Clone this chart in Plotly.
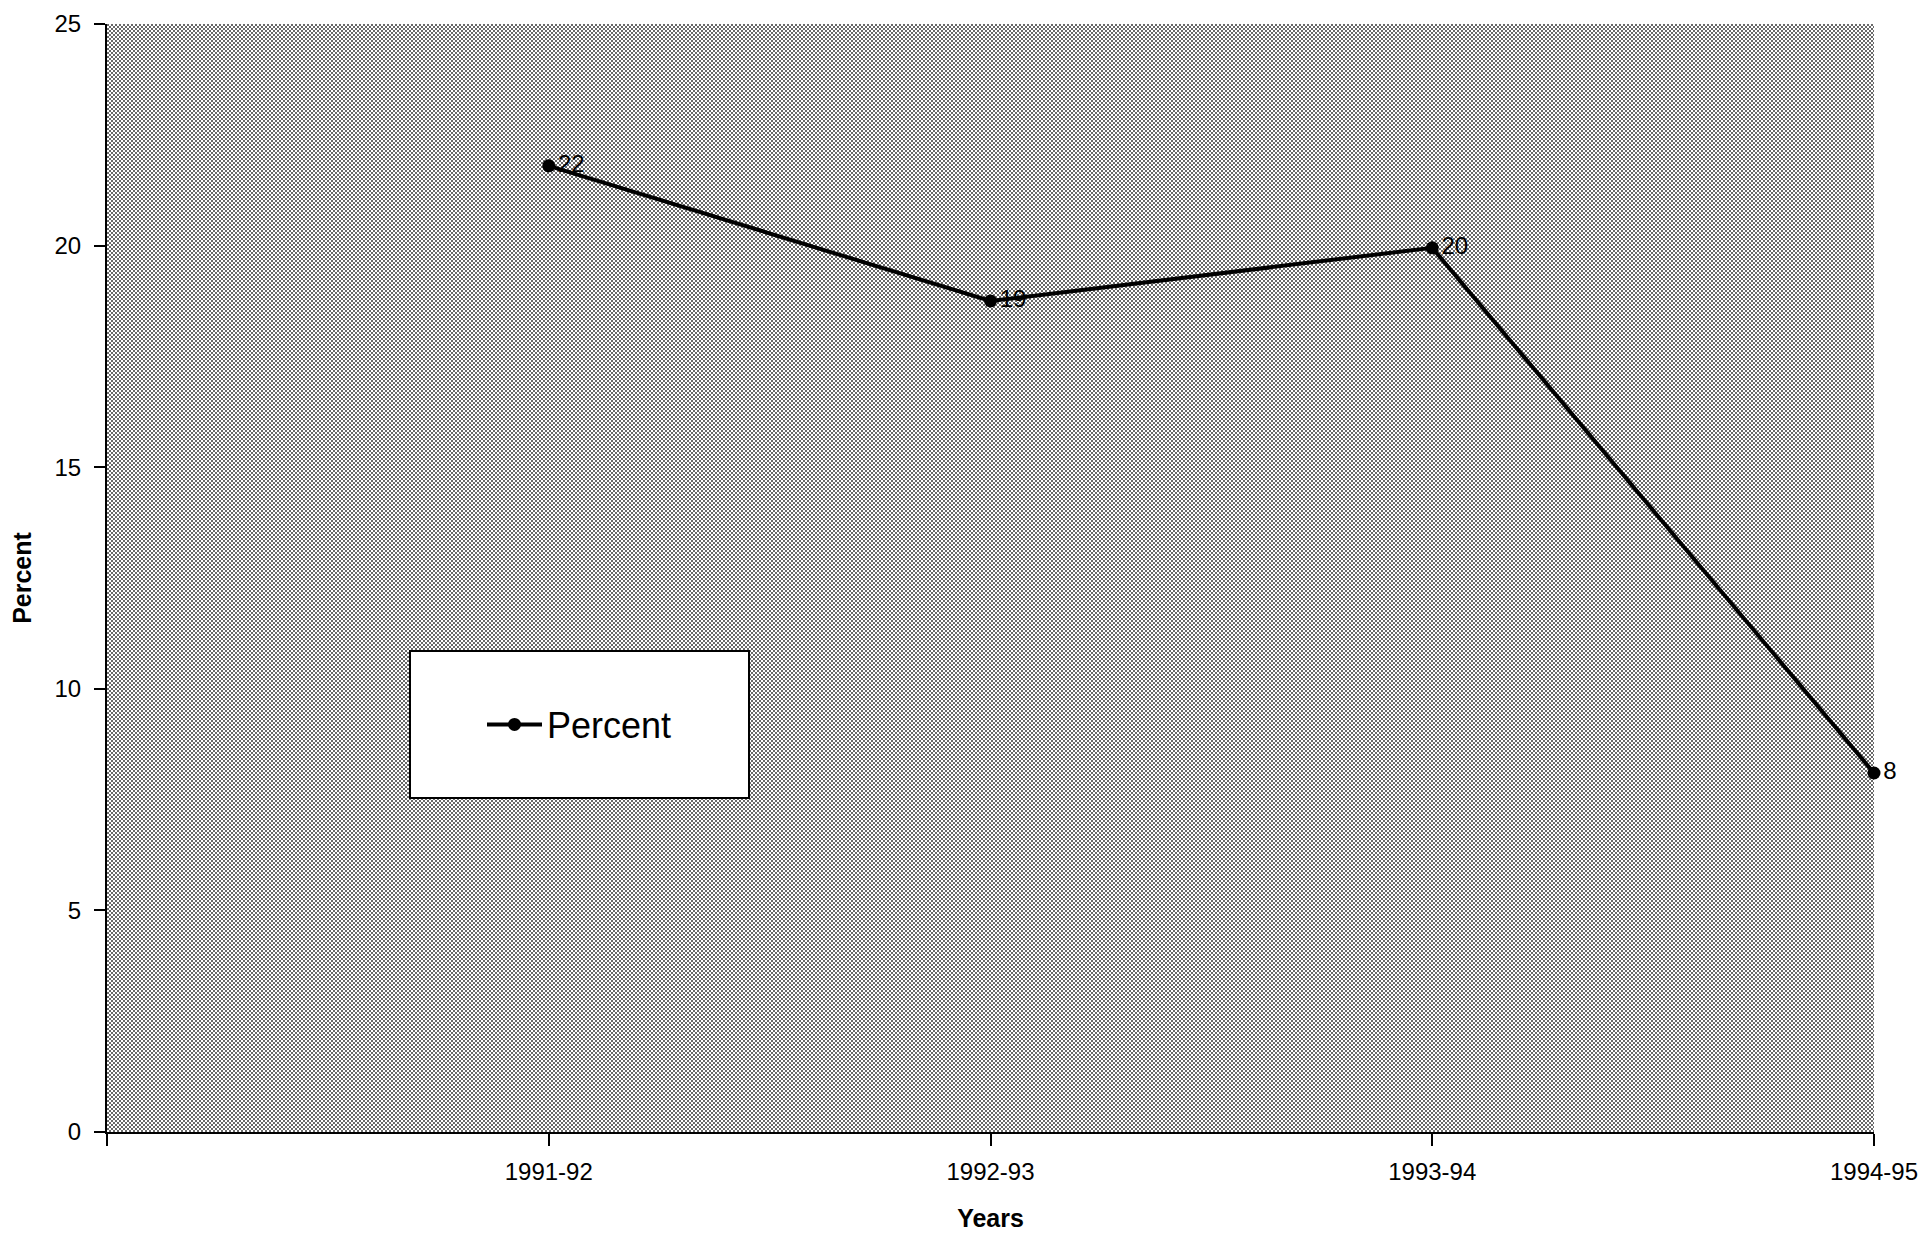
import base64
import struct
import zlib

import numpy as np
import plotly.graph_objects as go

# ---- data ----
categories = ["1991-92", "1992-93", "1993-94", "1994-95"]
percent = [21.8, 18.75, 19.95, 8.1]
labels = ["22", "19", "20", "8"]
y_ticks = [0, 5, 10, 15, 20, 25]

x_pos = list(range(1, len(categories) + 1))

# ---- layout geometry ----
W, H = 1925, 1233
ML, MR, MT, MB = 107, 51, 24, 101
PW, PH = W - ML - MR, H - MT - MB


def make_pattern_png(w, h):
    yy, xx = np.mgrid[0:h, 0:w]
    dots = (((xx // 2) + (yy // 2)) % 2 == 0)
    img = np.full((h, w), 255, dtype=np.uint8)
    img[dots] = 105
    raw = b"".join(b"\x00" + img[r].tobytes() for r in range(h))

    def chunk(tag, data):
        c = struct.pack(">I", len(data)) + tag + data
        return c + struct.pack(">I", zlib.crc32(tag + data) & 0xFFFFFFFF)

    png = b"\x89PNG\r\n\x1a\n"
    png += chunk(b"IHDR", struct.pack(">IIBBBBB", w, h, 8, 0, 0, 0, 0))
    png += chunk(b"IDAT", zlib.compress(raw, 9))
    png += chunk(b"IEND", b"")
    return "data:image/png;base64," + base64.b64encode(png).decode()


FONT = "Liberation Sans, Arial, sans-serif"

fig = go.Figure()
fig.add_trace(
    go.Scatter(
        x=x_pos,
        y=percent,
        mode="lines+markers+text",
        name="Percent",
        text=labels,
        textposition="middle right",
        textfont=dict(size=24, color="black", family=FONT),
        line=dict(color="black", width=4),
        marker=dict(color="black", size=13),
        cliponaxis=False,
    )
)

legend_x0, legend_x1 = (410 - ML) / PW, (749 - ML) / PW
legend_y1, legend_y0 = (MT + PH - 651) / PH, (MT + PH - 798) / PH

fig.update_layout(
    width=W,
    height=H,
    margin=dict(l=ML, r=MR, t=MT, b=MB, pad=0, autoexpand=False),
    paper_bgcolor="white",
    plot_bgcolor="#b0b0b0",
    font=dict(family=FONT, color="black", size=24),
    showlegend=True,
    legend=dict(
        x=(legend_x0 + legend_x1) / 2,
        y=(legend_y0 + legend_y1) / 2,
        xanchor="center",
        yanchor="middle",
        bgcolor="rgba(0,0,0,0)",
        borderwidth=0,
        font=dict(size=36, family=FONT, color="black"),
        itemwidth=55,
    ),
    shapes=[
        dict(
            type="rect",
            xref="paper",
            yref="paper",
            x0=legend_x0,
            x1=legend_x1,
            y0=legend_y0,
            y1=legend_y1,
            fillcolor="white",
            line=dict(color="black", width=2),
            layer="below",
        )
    ],
    images=[
        dict(
            source=make_pattern_png(PW, PH),
            xref="paper",
            yref="paper",
            x=0,
            y=1,
            sizex=1,
            sizey=1,
            xanchor="left",
            yanchor="top",
            sizing="stretch",
            layer="below",
        )
    ],
    xaxis=dict(
        range=[0, len(categories)],
        tickvals=[0] + x_pos,
        ticktext=[""] + categories,
        automargin=False,
        showgrid=False,
        zeroline=False,
        showline=True,
        linecolor="black",
        linewidth=2,
        ticks="outside",
        ticklen=12,
        tickwidth=2,
        tickcolor="black",
        ticklabelstandoff=5,
        tickfont=dict(size=24, family=FONT),
        title=dict(text="<b>Years</b>", font=dict(size=25, family=FONT), standoff=26),
    ),
    yaxis=dict(
        range=[0, 25],
        tickvals=y_ticks,
        automargin=False,
        showgrid=False,
        zeroline=False,
        showline=True,
        linecolor="black",
        linewidth=2,
        ticks="outside",
        ticklen=11,
        tickwidth=2,
        tickcolor="black",
        ticklabelstandoff=8,
        tickfont=dict(size=24, family=FONT),
        title=dict(text="<b>Percent</b>", font=dict(size=25, family=FONT), standoff=16),
    ),
)

fig.write_html("out.html")
